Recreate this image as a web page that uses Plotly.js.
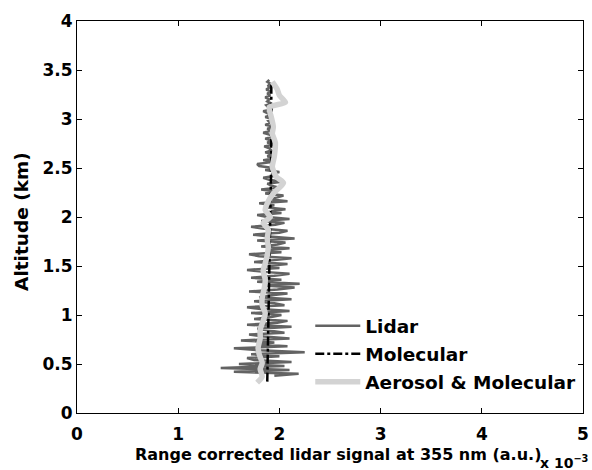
<!DOCTYPE html>
<html>
<head>
<meta charset="utf-8">
<script src="https://cdn.plot.ly/plotly-3.0.1.min.js"></script>
<style>
html,body{margin:0;padding:0;background:#fff;}
#chart{width:592px;height:470px;}
#chart text { font-weight: bold !important; }
</style>
</head>
<body>
<div id="chart"></div>
<script>
// Altitude bins of the lidar profile (km)
var lidarAlt = [0.38,0.40,0.42,0.44,0.46,0.48,0.50,
0.52,0.54,0.56,0.58,0.60,0.62,0.64,0.66,0.68,0.70,
0.72,0.74,0.76,0.78,0.80,0.82,0.84,0.86,0.88,0.90,0.92,0.94,0.96,0.98,1.00,
1.02,1.04,1.06,1.08,1.10,1.12,1.14,1.16,1.18,1.20,1.22,1.24,1.26,1.28,1.30,1.32,1.34,1.36,1.38,1.40,1.42,1.44,1.46,1.48,1.50,
1.52,1.54,1.56,1.58,1.60,1.62,1.64,1.66,1.68,1.70,1.72,1.74,1.76,1.78,1.80,1.82,1.84,1.86,1.88,1.90,1.92,1.94,1.96,1.98,2.00,
2.02,2.04,2.06,2.08,2.10,2.12,2.14,2.16,2.18,2.20,2.22,2.24,2.26,2.28,2.30,2.32,2.34,2.36,2.38,2.40,2.42,2.44,2.46,2.48,2.50,
2.52,2.54,2.56,2.58,2.60,2.62,2.64,2.66,2.68,2.70,2.72,2.74,2.76,2.78,2.80,2.82,2.84,2.86,2.88,2.90,2.92,2.94,2.96,2.98,3.00,
3.02,3.04,3.06,3.08,3.10,3.12,3.14,3.16,3.18,3.20,3.22,3.24,3.26,3.28,3.30,3.32,3.34,3.36,3.38,3.40];

// Lidar signal (x 10^-3 a.u.)
var lidarSignal = [1.95,2.19,1.55,2.10,1.42,2.05,1.60,
2.12,1.75,1.68,2.00,1.72,2.25,1.80,1.55,2.08,1.78,
1.95,1.62,2.10,1.85,1.70,2.05,1.90,1.78,2.12,1.68,1.98,2.08,1.75,1.92,2.02,
1.72,2.10,1.82,1.68,2.05,1.95,1.75,2.12,1.80,1.90,2.08,1.70,1.98,2.15,1.85,2.20,1.78,2.02,1.72,1.95,2.10,1.85,1.68,2.00,1.88,
2.08,1.75,1.95,2.12,1.80,1.70,2.02,1.88,2.10,1.82,1.98,2.06,1.78,2.15,1.90,1.74,2.00,2.08,1.85,1.72,1.96,2.05,1.82,2.10,1.88,
1.78,2.02,1.92,2.06,1.85,1.95,1.80,2.08,1.90,1.98,2.04,1.86,1.96,1.82,2.00,1.92,1.88,2.02,1.90,1.84,1.96,1.92,2.00,1.86,1.94,
1.80,1.78,1.92,1.84,1.96,1.88,1.94,1.86,1.92,1.90,1.85,1.95,1.88,1.92,1.86,1.94,1.90,1.84,1.92,1.88,1.95,1.86,1.91,1.89,1.93,
1.86,1.92,1.88,1.84,1.93,1.89,1.87,1.92,1.88,1.90,1.86,1.91,1.88,1.92,1.87,1.90,1.89,1.91,1.88,1.90];

// Molecular profile
var molAlt = [0.32,0.80,1.40,2.00,2.60,3.00,3.38];
var molSignal = [1.88,1.89,1.90,1.91,1.92,1.92,1.92];

// Aerosol & Molecular profile
var aerAlt = [0.31,0.37,0.45,0.51,0.60,0.67,0.76,0.85,0.94,1.02,1.10,1.18,1.27,1.36,1.45,1.53,1.61,1.69,1.78,1.87,1.94,2.00,2.07,2.14,2.24,2.30,2.35,2.41,2.51,2.62,2.76,2.85,2.92,3.02,3.12,3.17,3.24,3.30,3.38];
var aerSignal = [1.78,1.83,1.81,1.83,1.80,1.79,1.81,1.81,1.84,1.86,1.83,1.83,1.85,1.86,1.84,1.86,1.88,1.89,1.88,1.89,1.84,1.91,1.86,1.88,1.94,2.00,2.04,1.97,1.93,1.95,1.96,1.93,1.94,1.92,1.90,2.06,2.00,1.98,1.93];

var xTicks = [0,1,2,3,4,5];
var yTicks = [0,0.5,1,1.5,2,2.5,3,3.5,4];

var FAM = 'DejaVu Sans, Verdana, sans-serif';
var tickFont = {family: FAM, size: 17, color: '#000', weight: 'bold'};
function bold(v) { return '<b>' + v + '</b>'; }

var traces = [
  {x: lidarSignal, y: lidarAlt, type: 'scatter', mode: 'lines', name: bold('Lidar'), legendgroup: 'a',
   line: {color: '#636363', width: 2.5}},
  {x: molSignal, y: molAlt, type: 'scatter', mode: 'lines', name: bold('Molecular'), legendgroup: 'b',
   line: {color: '#000000', width: 2.5, dash: 'dashdot'}},
  {x: aerSignal, y: aerAlt, type: 'scatter', mode: 'lines', name: bold('Aerosol &amp; Molecular'), legendgroup: 'c',
   line: {color: '#d3d3d3', width: 5.5, shape: 'spline', smoothing: 0.6}}
];

var layout = {
  width: 592, height: 470,
  margin: {l: 77, r: 9, t: 21, b: 57},
  paper_bgcolor: '#fff', plot_bgcolor: '#fff',
  showlegend: true,
  legend: {x: 0.461, y: 0.27, xanchor: 'left', yanchor: 'top', bgcolor: 'rgba(0,0,0,0)',
           itemwidth: 45,
           font: {family: FAM, size: 18.5, color: '#000', weight: 'bold'},
           tracegroupgap: 1},
  xaxis: {range: [0, 5], tickvals: xTicks, ticktext: xTicks.map(function(v){return bold(v);}),
          ticks: 'inside', ticklen: 5, tickcolor: '#000', showline: true, linecolor: '#000', linewidth: 1,
          mirror: 'allticks', showgrid: false, zeroline: false, tickfont: tickFont, ticklabelstandoff: 6},
  yaxis: {range: [0, 4], tickvals: yTicks, ticktext: yTicks.map(function(v){return bold(v);}),
          ticks: 'inside', ticklen: 5, tickcolor: '#000', showline: true, linecolor: '#000', linewidth: 1,
          mirror: 'allticks', showgrid: false, zeroline: false, tickfont: tickFont},
  annotations: [
    {text: bold('Range corrected lidar signal at 355 nm (a.u.)'), xref: 'paper', yref: 'paper',
     x: 0.516, y: -0.1046, xanchor: 'center', yanchor: 'middle', showarrow: false,
     font: {family: FAM, size: 16, color: '#000', weight: 'bold'}},
    {text: bold('Altitude (km)'), xref: 'paper', yref: 'paper', textangle: -90,
     x: -0.1087, y: 0.49, xanchor: 'center', yanchor: 'middle', showarrow: false,
     font: {family: FAM, size: 18.5, color: '#000', weight: 'bold'}},
    {text: bold('x 10<sup>\u22123</sup>'), xref: 'paper', yref: 'paper', x: 1.015, y: -0.098,
     xanchor: 'right', yanchor: 'top', showarrow: false,
     font: {family: FAM, size: 14, color: '#000', weight: 'bold'}}
  ]
};

Plotly.newPlot('chart', traces, layout, {staticPlot: true, displayModeBar: false});
</script>
</body>
</html>
